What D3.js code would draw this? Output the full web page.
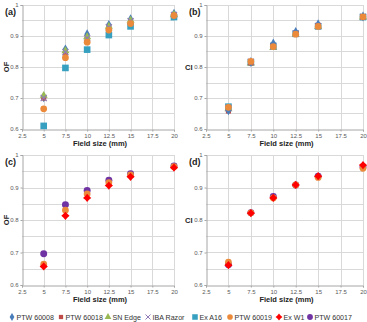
<!DOCTYPE html>
<html>
<head>
<meta charset="utf-8">
<script src="https://cdn.jsdelivr.net/npm/d3@7"></script>
<style>
  body { margin: 0; background: #fff; }
  svg { display: block; font-family: "Liberation Sans", Arial, sans-serif; }
  .grid line { stroke: #d9d9d9; stroke-width: 1; }
  .tick text { fill: #595959; font-size: 6px; }
  .ttl { font-weight: bold; font-size: 7.5px; fill: #222; }
  .plab { font-weight: bold; font-size: 9px; fill: #222; }
  .leg text { font-size: 7.1px; fill: #333; }
</style>
</head>
<body>
<script>
// field sizes (mm)
var fieldSizes = [5, 7.5, 10, 12.5, 15, 20]
var xTicks = [2.5, 5, 7.5, 10, 12.5, 15, 17.5, 20]
var yTicks = [0.6, 0.7, 0.8, 0.9, 1]

// detector names, in legend order
var detectors = ['PTW 60008', 'PTW 60018', 'SN Edge', 'IBA Razor', 'Ex A16', 'PTW 60019', 'Ex W1', 'PTW 60017']

// (a) output factors
var ofA_60008 = [0.702, 0.857, 0.906, 0.936, 0.954, 0.972]
var ofA_60018 = [0.700, 0.844, 0.890, 0.926, 0.947, 0.969]
var ofA_edge  = [0.708, 0.852, 0.897, 0.931, 0.950, 0.969]
var ofA_razor = [0.700, 0.848, 0.893, 0.928, 0.948, 0.968]
var ofA_a16   = [0.610, 0.797, 0.856, 0.903, 0.931, 0.961]
var ofA_60019 = [0.665, 0.830, 0.880, 0.919, 0.940, 0.966]

// (b) CI
var ciB_60008 = [0.660, 0.816, 0.876, 0.913, 0.938, 0.963]
var ciB_60018 = [0.658, 0.813, 0.870, 0.909, 0.934, 0.962]
var ciB_edge  = [0.665, 0.812, 0.862, 0.905, 0.930, 0.961]
var ciB_razor = [0.668, 0.817, 0.866, 0.908, 0.932, 0.962]
var ciB_a16   = [0.672, 0.815, 0.868, 0.907, 0.931, 0.961]
var ciB_60019 = [0.670, 0.818, 0.866, 0.906, 0.931, 0.962]

// (c) output factors
var ofC_60019 = [0.664, 0.830, 0.880, 0.915, 0.939, 0.964]
var ofC_w1    = [0.657, 0.813, 0.868, 0.906, 0.933, 0.961]
var ofC_60017 = [0.696, 0.847, 0.891, 0.922, 0.942, 0.966]

// (d) CI
var ciD_60019 = [0.670, 0.822, 0.868, 0.908, 0.931, 0.959]
var ciD_w1    = [0.661, 0.821, 0.868, 0.908, 0.935, 0.969]
var ciD_60017 = [0.662, 0.822, 0.872, 0.908, 0.935, 0.964]

// rounded four point star for Ex W1
var star4 = {
  draw: function(ctx, size) {
    var r = Math.sqrt(size) * 0.62, q = r * 0.62
    ctx.moveTo(0, -r)
    ctx.lineTo(q * 0.75, -q * 0.75)
    ctx.lineTo(r, 0)
    ctx.lineTo(q * 0.75, q * 0.75)
    ctx.lineTo(0, r)
    ctx.lineTo(-q * 0.75, q * 0.75)
    ctx.lineTo(-r, 0)
    ctx.lineTo(-q * 0.75, -q * 0.75)
    ctx.closePath()
  }
}

var style = {
  'PTW 60008': { type: d3.symbolDiamond, color: '#4a7ebb', size: 28 },
  'PTW 60018': { type: d3.symbolSquare, color: '#be4b48', size: 26 },
  'SN Edge':   { type: d3.symbolTriangle, color: '#98b954', size: 28 },
  'IBA Razor': { type: d3.symbolX, color: '#8f7ab8', size: 26, stroke: true },
  'Ex A16':    { type: d3.symbolSquare, color: '#37a0c0', size: 44 },
  'PTW 60019': { type: d3.symbolCircle, color: '#ec8a3c', size: 36 },
  'Ex W1':     { type: star4, color: '#ff0000', size: 44 },
  'PTW 60017': { type: d3.symbolCircle, color: '#7033a3', size: 38 }
}

var panels = [
  { lab: '(a)', yl: 'OF', rot: true, x0: 22, x1: 174, y0: 5, y1: 129,
    series: [['PTW 60008', ofA_60008], ['PTW 60018', ofA_60018], ['SN Edge', ofA_edge],
             ['IBA Razor', ofA_razor], ['Ex A16', ofA_a16], ['PTW 60019', ofA_60019]] },
  { lab: '(b)', yl: 'CI', rot: false, x0: 206, x1: 363, y0: 5, y1: 129,
    series: [['Ex A16', ciB_a16], ['SN Edge', ciB_edge], ['IBA Razor', ciB_razor],
             ['PTW 60018', ciB_60018], ['PTW 60008', ciB_60008], ['PTW 60019', ciB_60019]] },
  { lab: '(c)', yl: 'OF', rot: true, x0: 22, x1: 174, y0: 155, y1: 285,
    series: [['PTW 60017', ofC_60017], ['PTW 60019', ofC_60019], ['Ex W1', ofC_w1]] },
  { lab: '(d)', yl: 'CI', rot: false, x0: 206, x1: 363, y0: 155, y1: 285,
    series: [['PTW 60017', ciD_60017], ['PTW 60019', ciD_60019], ['Ex W1', ciD_w1]] }
]

var width = 367, height = 322
var svg = d3.select('body').append('svg')
  .attr('width', width)
  .attr('height', height)

panels.forEach(function(p) {
  var x = d3.scaleLinear().domain([2.5, 20]).range([p.x0, p.x1])
  var y = d3.scaleLinear().domain([0.6, 1]).range([p.y1, p.y0])
  var g = svg.append('g')

  // gridlines every 0.05 and every 2.5 mm
  var grid = g.append('g').attr('class', 'grid')
  grid.selectAll('line.h')
    .data(d3.range(0.65, 1.001, 0.05))
    .enter().append('line')
    .attr('x1', p.x0).attr('x2', p.x1)
    .attr('y1', function(d) { return Math.round(y(d)) + 0.5 })
    .attr('y2', function(d) { return Math.round(y(d)) + 0.5 })
  grid.selectAll('line.v')
    .data(xTicks.slice(1))
    .enter().append('line')
    .attr('y1', p.y0).attr('y2', p.y1)
    .attr('x1', function(d) { return Math.round(x(d)) + 0.5 })
    .attr('x2', function(d) { return Math.round(x(d)) + 0.5 })

  var xa = g.append('g')
    .attr('transform', 'translate(0,' + (Math.round(p.y1) + 0.5) + ')')
    .call(d3.axisBottom(x).tickValues(xTicks).tickSize(2).tickPadding(2).tickFormat(d3.format('')))
  var ya = g.append('g')
    .attr('transform', 'translate(' + (Math.round(p.x0) + 0.5) + ',0)')
    .call(d3.axisLeft(y).tickValues(yTicks).tickSize(2).tickPadding(2).tickFormat(d3.format('')))
  ;[xa, ya].forEach(function(a) {
    a.select('.domain').attr('stroke', '#a6a6a6')
    a.selectAll('.tick line').attr('stroke', '#a6a6a6')
  })

  g.append('text').attr('class', 'ttl')
    .attr('x', (p.x0 + p.x1) / 2 + 2).attr('y', p.y1 + 17)
    .attr('text-anchor', 'middle')
    .text('Field size (mm)')

  if (p.rot) {
    g.append('text').attr('class', 'ttl')
      .attr('transform', 'translate(' + (p.x0 - 13) + ',' + ((p.y0 + p.y1) / 2) + ')rotate(-90)')
      .attr('text-anchor', 'middle')
      .text(p.yl)
  } else {
    g.append('text').attr('class', 'ttl')
      .attr('x', p.x0 - 21).attr('y', (p.y0 + p.y1) / 2 + 3)
      .text(p.yl)
  }

  g.append('text').attr('class', 'plab')
    .attr('x', p.x0 - 17).attr('y', p.y0 + 10)
    .text(p.lab)

  p.series.forEach(function(s) {
    var st = style[s[0]]
    g.append('g').selectAll('path')
      .data(s[1])
      .enter().append('path')
      .attr('d', d3.symbol().type(st.type).size(st.size))
      .attr('transform', function(d, i) { return 'translate(' + x(fieldSizes[i]) + ',' + y(d) + ')' })
      .attr('fill', st.stroke ? 'none' : st.color)
      .attr('stroke', st.stroke ? st.color : 'none')
      .attr('stroke-width', 1.2)
  })
})

// legend
var legX = [12, 61, 108, 148, 195, 230, 279, 310]
var leg = svg.append('g').attr('class', 'leg')
  .attr('transform', 'translate(0,317)')
var items = leg.selectAll('g')
  .data(detectors)
  .enter().append('g')
  .attr('transform', function(d, i) { return 'translate(' + legX[i] + ',0)' })
items.append('path')
  .attr('d', function(d) { return d3.symbol().type(style[d].type).size(style[d].size * 0.7)() })
  .attr('fill', function(d) { return style[d].stroke ? 'none' : style[d].color })
  .attr('stroke', function(d) { return style[d].stroke ? style[d].color : 'none' })
  .attr('stroke-width', 1)
items.append('text')
  .attr('x', 4.5).attr('y', 2.5)
  .text(function(d) { return d })
</script>
</body>
</html>
